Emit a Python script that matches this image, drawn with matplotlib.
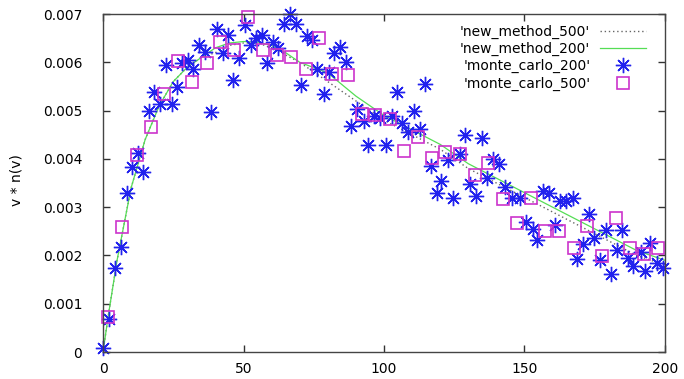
import matplotlib
matplotlib.use("Agg")
import matplotlib.pyplot as plt

# ---------------------------------------------------------------------
# Data
# ---------------------------------------------------------------------
mc200_x = [0.1, 2.1, 4.3, 6.4, 8.4, 10.4, 12.3, 14.3, 16.4, 18.3, 20.3, 22.3,
           24.4, 26.2, 28.2, 30.4, 32.1, 34.3, 36.3, 38.4, 40.4, 42.6, 44.6,
           46.4, 48.5, 50.5, 52.6, 54.5, 56.5, 58.5, 60.6, 62.4, 64.4, 66.5,
           68.7, 70.4, 72.7, 74.3, 76.3, 78.6, 80.3, 82.2, 84.3, 86.4, 88.3,
           90.3, 93.0, 94.4, 96.5, 98.6, 100.6, 102.7, 104.5, 106.5, 108.6,
           110.8, 112.8, 114.6, 116.7, 118.8, 120.4, 122.9, 124.7, 127.0,
           128.8, 130.6, 132.7, 134.8, 136.8, 138.7, 141.0, 143.1, 145.4,
           148.4, 150.5, 152.9, 154.6, 156.7, 158.8, 160.9, 162.6, 164.8,
           167.1, 168.8, 170.9, 173.0, 174.7, 176.9, 179.0, 180.7, 182.8,
           184.6, 187.0, 188.7, 191.3, 192.9, 194.7, 197.0, 199.2]
mc200_y = [0.00008, 0.00068, 0.00174, 0.00218, 0.00329, 0.00384, 0.00413,
           0.00373, 0.00499, 0.00539, 0.00513, 0.00594, 0.00513, 0.00548,
           0.00598, 0.00605, 0.00587, 0.00636, 0.00622, 0.00497, 0.00670,
           0.00620, 0.00656, 0.00564, 0.00608, 0.00677, 0.00636, 0.00650,
           0.00656, 0.00599, 0.00642, 0.00629, 0.00680, 0.00700, 0.00680,
           0.00553, 0.00654, 0.00646, 0.00587, 0.00535, 0.00579, 0.00620,
           0.00632, 0.00601, 0.00468, 0.00504, 0.00479, 0.00429, 0.00489,
           0.00484, 0.00429, 0.00489, 0.00539, 0.00475, 0.00456, 0.00500,
           0.00461, 0.00555, 0.00385, 0.00330, 0.00354, 0.00398, 0.00318,
           0.00411, 0.00449, 0.00349, 0.00323, 0.00444, 0.00360, 0.00399,
           0.00389, 0.00341, 0.00318, 0.00318, 0.00270, 0.00254, 0.00232,
           0.00334, 0.00329, 0.00263, 0.00313, 0.00313, 0.00318, 0.00192,
           0.00224, 0.00286, 0.00237, 0.00190, 0.00253, 0.00161, 0.00211,
           0.00253, 0.00194, 0.00178, 0.00208, 0.00168, 0.00225, 0.00185,
           0.00175]

mc500_x = [1.7, 6.6, 12.0, 17.1, 21.8, 26.8, 31.8, 36.9, 41.6, 46.6, 51.7,
           56.8, 62.0, 66.8, 72.2, 77.0, 81.6, 87.1, 92.3, 96.8, 102.1, 107.2,
           112.0, 117.2, 121.8, 127.0, 132.4, 137.1, 142.2, 147.2, 152.2,
           157.3, 162.4, 167.6, 172.4, 177.5, 182.6, 187.5, 192.5, 197.6]
mc500_y = [0.00073, 0.00258, 0.00408, 0.00466, 0.00534, 0.00603, 0.00560,
           0.00598, 0.00643, 0.00625, 0.00694, 0.00626, 0.00615, 0.00611,
           0.00587, 0.00651, 0.00576, 0.00573, 0.00493, 0.00491, 0.00482,
           0.00417, 0.00446, 0.00401, 0.00415, 0.00411, 0.00366, 0.00391,
           0.00316, 0.00268, 0.00318, 0.00251, 0.00251, 0.00215, 0.00261,
           0.00199, 0.00277, 0.00215, 0.00203, 0.00215]

curve_x = [0, 2, 5, 10, 15, 20, 25, 30, 35, 40, 45, 50, 55, 60, 65, 70, 80,
           90, 100, 110, 120, 130, 140, 150, 160, 170, 180, 190, 200]
new200_y = [0.0, 0.0008, 0.0019, 0.0034, 0.0044, 0.0051, 0.0056, 0.0059,
            0.0061, 0.0063, 0.0064, 0.00643, 0.00642, 0.00635, 0.0062,
            0.0060, 0.00578, 0.0053, 0.0049, 0.0046, 0.0043, 0.0039, 0.0036,
            0.0033, 0.0030, 0.0027, 0.0024, 0.0021, 0.0019]
new500_y = [0.0, 0.0008, 0.0019, 0.0034, 0.0044, 0.0051, 0.0056, 0.0059,
            0.0061, 0.0062, 0.00635, 0.0064, 0.0064, 0.0063, 0.00615,
            0.0060, 0.0056, 0.0052, 0.0048, 0.0045, 0.0042, 0.0038, 0.0035,
            0.0032, 0.0029, 0.0026, 0.0023, 0.0020, 0.0018]

x_ticks = [0, 50, 100, 150, 200]
y_ticks = [0, 0.001, 0.002, 0.003, 0.004, 0.005, 0.006, 0.007]
y_tick_labels = ["0", "0.001", "0.002", "0.003", "0.004", "0.005", "0.006", "0.007"]

# ---------------------------------------------------------------------
# Plot
# ---------------------------------------------------------------------
plt.rcParams["font.family"] = "DejaVu Sans"
plt.rcParams["font.size"] = 10

fig = plt.figure(figsize=(6.84, 3.79), dpi=100)
ax = fig.add_axes([0.1506, 0.0712, 0.8216, 0.8918])

ax.plot(curve_x, new500_y, color="#666666", lw=1.0, ls=(0, (1, 2)),
        label="'new_method_500'")
ax.plot(curve_x, new200_y, color="#55dd55", lw=0.9,
        label="'new_method_200'")
ax.plot(mc200_x, mc200_y, ls="none", marker=(8, 2, 0), ms=11, mew=1.0,
        color="#2222ee", clip_on=False, label="'monte_carlo_200'")
ax.plot(mc500_x, mc500_y, ls="none", marker="s", ms=9, mew=1.2,
        mfc="none", mec="#cc33cc", clip_on=False, label="'monte_carlo_500'")

ax.set_xlim(0, 200)
ax.set_ylim(0, 0.007)
ax.set_xticks(x_ticks)
ax.set_yticks(y_ticks)
ax.set_yticklabels(y_tick_labels)
ax.tick_params(direction="in", length=5, width=1, color="#333333",
               top=True, right=True)
ax.tick_params(axis="y", pad=15)
ax.tick_params(axis="x", pad=7)
for s in ax.spines.values():
    s.set_color("#444444")
    s.set_linewidth(1.0)

fig.text(0.024, 0.525, "v * n(v)", rotation=90, ha="center", va="center",
         fontsize=10)

ax.legend(loc="upper right", bbox_to_anchor=(0.966, 0.968), frameon=False,
          markerfirst=False, numpoints=1, handlelength=3.3,
          handletextpad=0.7, labelspacing=0.22, borderpad=0,
          borderaxespad=0, fontsize=10)

fig.savefig("out.png", dpi=100)
